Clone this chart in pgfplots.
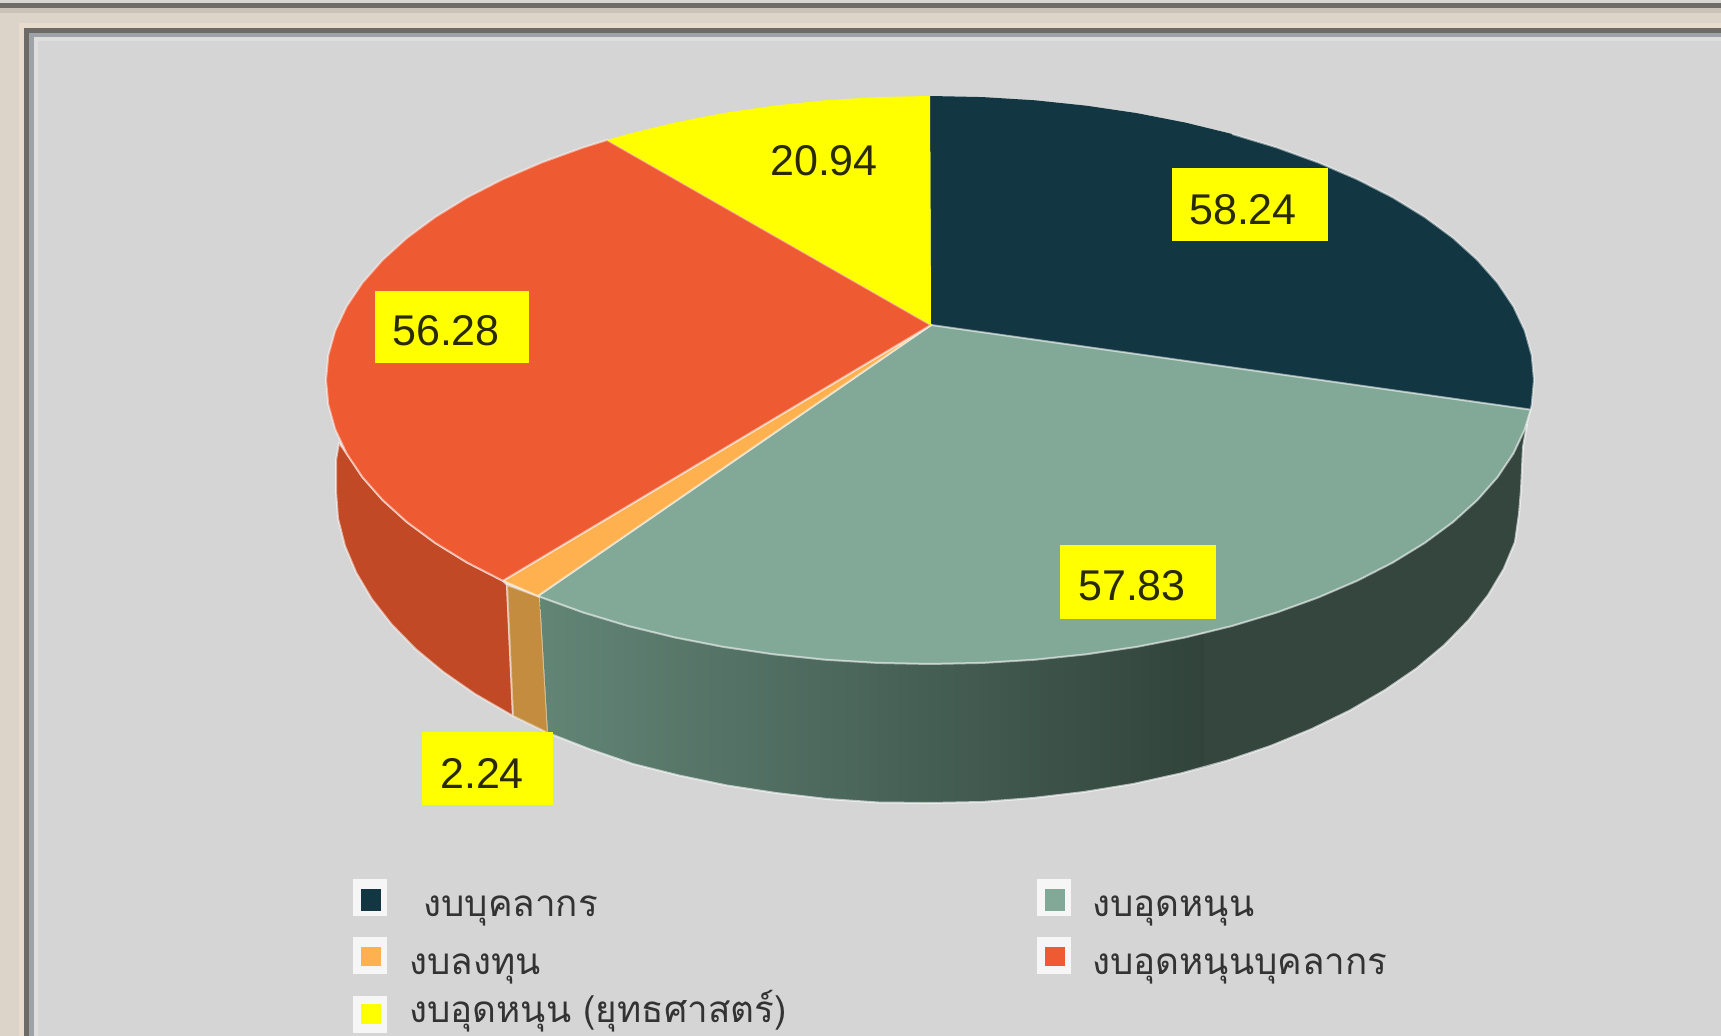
\documentclass[border=0pt]{standalone}
\usepackage{pgfplots}
\pgfplotsset{compat=1.18}
\usepackage{fontspec}
\setmainfont{Liberation Sans}
\newfontfamily\thaifont[Script=Thai]{Loma}
\definecolor{bgg}{HTML}{D5D5D5}
\definecolor{navy}{HTML}{123743}
\definecolor{teal1}{HTML}{82A998}
\definecolor{orng}{HTML}{FFB150}
\definecolor{redd}{HTML}{EE5A32}
\definecolor{yell}{HTML}{FFFF00}
\definecolor{swh}{HTML}{F6F6F6}
\definecolor{wallr}{HTML}{C24925}
\definecolor{wallo}{HTML}{C48C3E}
\definecolor{walll}{HTML}{628576}
\definecolor{walld}{HTML}{31433B}
\definecolor{wallm}{HTML}{35463F}
\definecolor{lblt}{HTML}{2A2A00}
\definecolor{legt}{HTML}{333333}
\definecolor{ca}{HTML}{D8D6D2}
\definecolor{cb}{HTML}{6E6C68}
\definecolor{cc}{HTML}{CBC2B8}
\definecolor{cd}{HTML}{DCD3C9}
\definecolor{ce}{HTML}{E8DCCF}
\definecolor{cf}{HTML}{6E6A65}
\definecolor{cg}{HTML}{9EA3A7}
\definecolor{ch}{HTML}{DEDEDE}
\newcommand\rect[5]{\addplot[fill=#1,draw=none] coordinates {(#2,#3)(#4,#3)(#4,#5)(#2,#5)} --cycle;}
\newcommand\numlab[3]{\node[text=lblt,font=\fontsize{21.5}{21.5}\selectfont,inner sep=0pt] at (axis cs:#1,#2) {#3};}
\newcommand\leg[3]{\node[text=legt,anchor=base west,inner sep=0pt,font=\thaifont\fontsize{18.4}{18.4}\selectfont] at (axis cs:#1,#2) {#3};}
\begin{document}
\begin{tikzpicture}
\path[use as bounding box] (0,0) rectangle (860.5pt,518pt);
\begin{axis}[at={(0,0)},anchor=south west,scale only axis,width=860.5pt,height=518pt,
  xmin=0,xmax=1721,ymin=0,ymax=1036,y dir=reverse,hide axis,clip=true]
% window chrome
\rect{cd}{0}{0}{1721}{1036}
\rect{ca}{0}{0}{1721}{3}
\rect{cb}{0}{3}{1721}{8}
\rect{cc}{0}{8}{1721}{13}
\rect{ce}{19}{23}{1721}{1036}
\rect{cf}{24}{28}{1721}{1036}
\rect{cg}{29}{33}{1721}{1036}
\rect{ch}{34}{37}{1721}{1036}
\rect{bgg}{38}{41}{1721}{1036}
% walls
\addplot[fill=wallr,draw=white,draw opacity=0.55,line width=1pt,line join=round] coordinates {
 (339,443)(346.6,453.5)(362.4,477.1)(382.6,500)(406.9,522)(435.2,542.9)(467.3,562.6)(502.9,580.8)(507,585)
 (513,716)(475,694)(443.4,672)(415.6,649)(391.7,624.5)(371.8,599)(356.3,572.8)(345,546)(338,518.5)(336,491)(336,460)} --cycle;
\addplot[fill=wallo,draw=white,draw opacity=0.45,line width=1pt] coordinates {
 (507,585)(540,597)(548,733)(513,716)} --cycle;
\addplot[draw=none,left color=walll,right color=walld] coordinates {
 (540,597)(583.5,612.6)(628,626)(674.7,637.4)(723.4,646.9)(773.7,654.3)(825.1,659.7)(877.3,662.9)(930,664)
 (982.7,662.9)(1034.9,659.7)(1086.3,654.3)(1136.6,646.9)(1185.3,637.4)(1205,633)
 (1205,767)(1181,773.4)(1133,784)(1084,792)(1033,798)(982,802)(930,803)(878,802.5)(827,799)(776,793)(727,785.5)(679,775.5)(633,764)(589,749)(548,733)} --cycle;
\addplot[fill=wallm,draw=none] coordinates {
 (1204,633)(1232,626)(1276.5,612.6)(1318.2,597.5)(1357.1,580.8)(1392.7,562.6)(1424.8,542.9)(1453.1,522)
 (1477.4,500)(1497.6,477.1)(1513.4,453.5)(1524.8,429.3)(1527,424)
 (1523,447)(1521,490)(1519,514)(1515,542)(1503.7,569)(1488.2,595)(1468.3,620.5)(1444.4,645)(1416.6,668.3)(1385,690)(1350,710.4)(1311.8,729)(1270.7,745.9)(1227,760.7)(1204,767.5)} --cycle;
\addplot[draw=white,draw opacity=0.6,line width=1pt,line join=round] coordinates {
 (548,733)(589,749)(633,764)(679,775.5)(727,785.5)(776,793)(827,799)(878,802.5)(930,803)(982,802)(1033,798)(1084,792)(1133,784)(1181,773.4)(1227,760.7)(1270.7,745.9)(1311.8,729)(1350,710.4)(1385,690)(1416.6,668.3)(1444.4,645)(1468.3,620.5)(1488.2,595)(1503.7,569)(1515,542)(1519,514)(1521,490)(1523,447)(1527,424)};
% top faces
\addplot[fill=navy,draw=none] coordinates {
 (931,325)(930,96)(982.7,97.1)(1034.9,100.3)(1086.3,105.7)(1136.6,113.1)(1185.3,122.6)(1232,134)(1276.5,147.4)
 (1318.2,162.5)(1357.1,179.2)(1392.7,197.4)(1424.8,217.1)(1453.1,238)(1477.4,260)(1497.6,282.9)(1513.4,306.5)
 (1524.8,330.7)(1531.7,355.2)(1534,380)(1531.7,404.8)(1530.7,409.7)} --cycle;
\addplot[draw=white,draw opacity=0.5,line width=1pt,line join=round] coordinates {
 (1232,134)(1276.5,147.4)(1318.2,162.5)(1357.1,179.2)(1392.7,197.4)(1424.8,217.1)(1453.1,238)(1477.4,260)(1497.6,282.9)(1513.4,306.5)(1524.8,330.7)(1531.7,355.2)(1534,380)(1531.7,404.8)(1530.7,409.7)};
\addplot[fill=teal1,draw=white,draw opacity=0.55,line width=1pt,line join=round] coordinates {
 (931,325)(1530.7,409.7)(1524.8,429.3)(1513.4,453.5)(1497.6,477.1)(1477.4,500)(1453.1,522)(1424.8,542.9)
 (1392.7,562.6)(1357.1,580.8)(1318.2,597.5)(1276.5,612.6)(1232,626)(1185.3,637.4)(1136.6,646.9)(1086.3,654.3)
 (1034.9,659.7)(982.7,662.9)(930,664)(877.3,662.9)(825.1,659.7)(773.7,654.3)(723.4,646.9)(674.7,637.4)(628,626)
 (583.5,612.6)(541.8,597.5)(537.8,596)} --cycle;
\addplot[fill=orng,draw=white,draw opacity=0.5,line width=1pt,line join=round] coordinates {
 (931,325)(537.8,596)(502.9,580.8)} --cycle;
\addplot[fill=redd,draw=white,draw opacity=0.5,line width=1pt,line join=round] coordinates {
 (931,325)(502.9,580.8)(467.3,562.6)(435.2,542.9)(406.9,522)(382.6,500)(362.4,477.1)(346.6,453.5)(335.2,429.3)
 (328.3,404.8)(326,380)(328.3,355.2)(335.2,330.7)(346.6,306.5)(362.4,282.9)(382.6,260)(406.9,238)(435.2,217.1)
 (467.3,197.4)(502.9,179.2)(541.8,162.5)(583.5,147.4)(607.2,140)} --cycle;
\addplot[fill=yell,draw=none] coordinates {
 (931,325)(607.2,140)(628,134)(674.7,122.6)(723.4,113.1)(773.7,105.7)(825.1,100.3)(877.3,97.1)(930,96)} --cycle;
% value labels
\rect{yell}{1172}{168}{1328}{241}
\rect{yell}{375}{291}{529}{363}
\rect{yell}{1060}{545}{1216}{619}
\rect{yell}{422}{732}{553}{805}
\numlab{1243}{210}{58.24}
\numlab{446}{331}{56.28}
\numlab{1132}{586}{57.83}
\numlab{482}{773}{2.24}
\numlab{824}{161}{20.94}
% legend
\rect{swh}{353}{879}{387}{916}
\rect{navy}{361}{889}{381}{911}
\rect{swh}{1037}{879}{1071}{916}
\rect{teal1}{1045}{889}{1065}{911}
\rect{swh}{353}{937}{387}{974}
\rect{orng}{361}{947}{381}{966}
\rect{swh}{1037}{937}{1071}{974}
\rect{redd}{1045}{947}{1065}{966}
\rect{swh}{353}{996}{387}{1033}
\rect{yell}{361}{1004}{381}{1024}
\leg{423}{917}{งบบุคลากร}
\leg{1092}{917}{งบอุดหนุน}
\leg{409}{975}{งบลงทุน}
\leg{1092}{975}{งบอุดหนุนบุคลากร}
\leg{409}{1023}{งบอุดหนุน (ยุทธศาสตร์)}
\end{axis}
\end{tikzpicture}
\end{document}
